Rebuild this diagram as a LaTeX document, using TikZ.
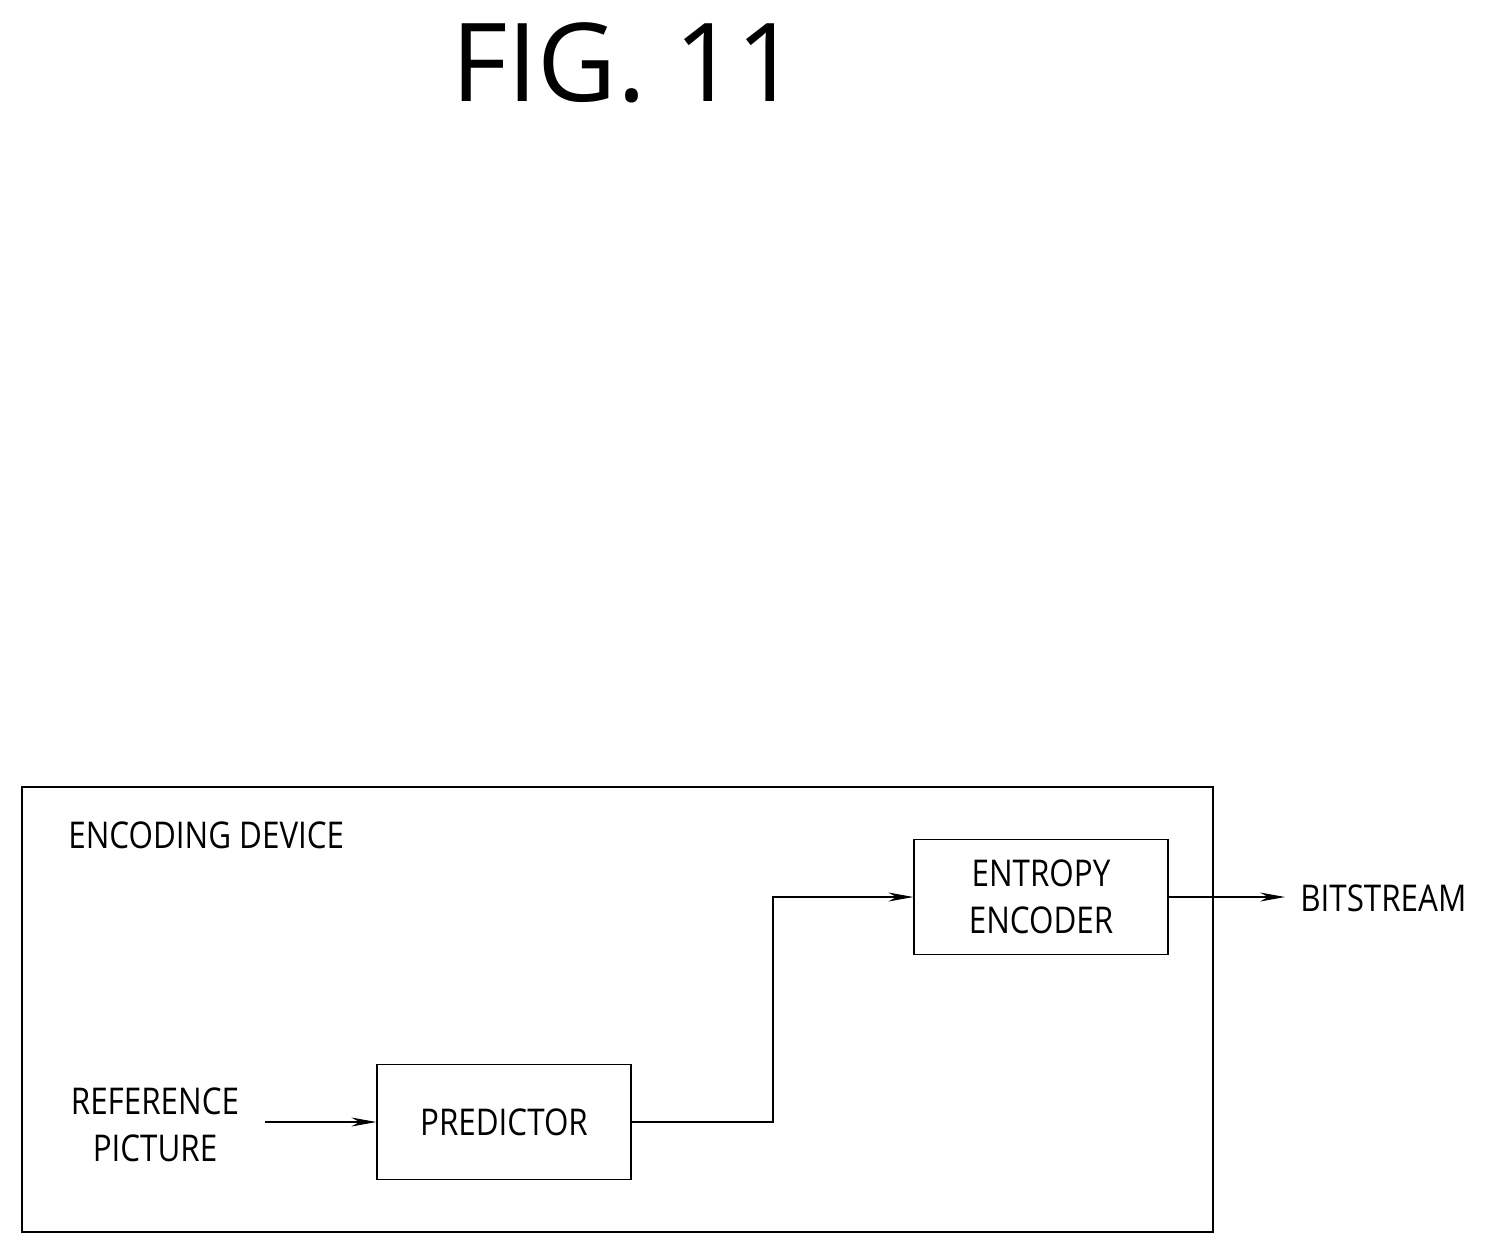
\documentclass[tikz,border=0pt]{standalone}
\usepackage{fontspec}
\setmainfont{Open Sans}
\usetikzlibrary{positioning,arrows.meta}

\tikzset{
  block/.style={draw, line width=0.8pt, minimum width=5.08cm, minimum height=2.3cm,
    align=center, font=\fontsize{21}{27}\selectfont, inner sep=0pt},
  label/.style={align=center, font=\fontsize{21}{27}\selectfont, inner sep=0pt},
  flow/.style={line width=0.6pt, -{Stealth[length=0.5cm, width=0.18cm]}}
}

\begin{document}
\begin{tikzpicture}[x=0.02cm, y=-0.02cm]
  \useasboundingbox (0,0) rectangle (1498,1255);
  \node[font=\fontsize{62}{70}\selectfont] (title) at (625,63) {FIG. 11};
  % encoding device frame
  \draw[line width=0.9pt] (22,787) rectangle (1213,1232);
  \node[label, anchor=west] (device) at (68,835) {\scalebox{0.85}[1]{ENCODING DEVICE}};
  % blocks
  \node[block] (entropy) at (1041,897) {\scalebox{0.85}[1]{ENTROPY}\\\scalebox{0.85}[1]{ENCODER}};
  \node[block] (predictor) at (504,1122) {\scalebox{0.85}[1]{PREDICTOR}};
  \node[label] (refpic) at (155,1125) {\scalebox{0.85}[1]{REFERENCE}\\\scalebox{0.85}[1]{PICTURE}};
  \node[label, anchor=west] (bitstream) at (1300,898) {\scalebox{0.85}[1]{BITSTREAM}};
  \coordinate (refend) at (265,1122);
  \coordinate (bitend) at (1285,897);
  % connections
  \draw[flow] (refend) -- (predictor.west);
  \draw[flow] (predictor.east) -| (773,1000) |- (entropy.west);
  \draw[flow] (entropy.east) -- (bitend);
\end{tikzpicture}
\end{document}
